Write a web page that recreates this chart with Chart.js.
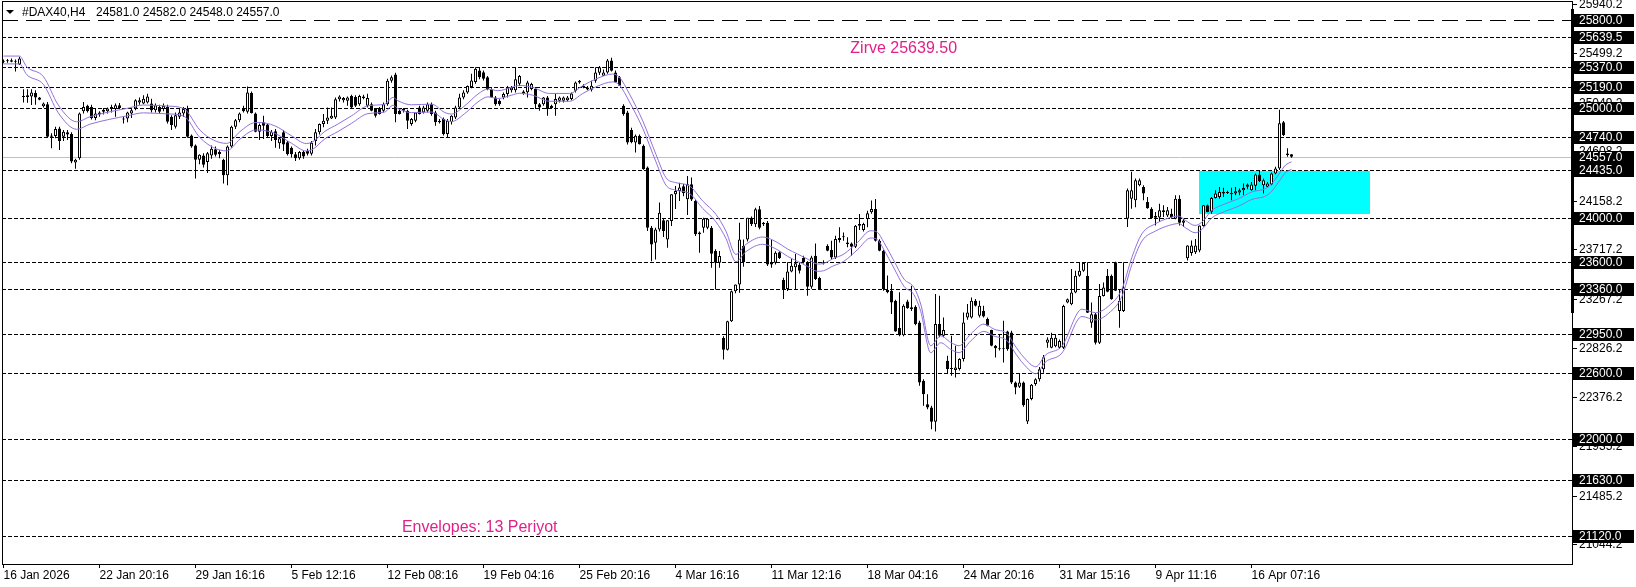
<!DOCTYPE html>
<html>
<head>
<meta charset="utf-8">
<title>#DAX40,H4</title>
<script src="https://cdn.jsdelivr.net/npm/chart.js@4.4.1/dist/chart.umd.min.js"></script>
<style>
  html, body { margin: 0; padding: 0; background: #fff; }
  #wrap { width: 1636px; height: 587px; position: relative; }
</style>
</head>
<body>
<div id="wrap"><canvas id="daxChart"></canvas></div>
<script>
// H4 candles (bar 0 = 16 Jan 2026)
const opens = [
  25420, 25425, 25432, 25420, 25395, 25110, 25100, 25105, 25135, 25095,
  25015, 25035, 24750, 24745, 24815, 24740, 24780, 24765, 24505, 24545,
  24970, 25020, 25010, 24910, 24940, 24965, 24970, 24995, 24990, 25025,
  24900, 24905, 24950, 24995, 25050, 25040, 25050, 25040, 24980, 25010,
  24990, 25010, 24920, 24830, 24920, 24950, 24996, 24750, 24660, 24530,
  24570, 24510, 24570, 24625, 24600, 24530, 24390, 24650, 24830, 24890,
  25000, 24966, 25135, 24950, 24785, 24870, 24850, 24745, 24790, 24680,
  24780, 24690, 24640, 24580, 24545, 24600, 24611, 24585, 24700, 24780,
  24855, 24885, 24905, 24915, 25080, 25070, 25065, 25110, 25100, 25035,
  25105, 25020, 25035, 24990, 25000, 24975, 25035, 25248, 25305, 24975,
  24990, 24975, 24855, 24885, 25005, 24960, 24975, 25035, 24960, 24885,
  24900, 24765, 24870, 24915, 25005, 25095, 25140, 25190, 25235, 25340,
  25325, 25280, 25170, 25096, 25066, 25096, 25126, 25160, 25160, 25220,
  25150, 25142, 25172, 25172, 25035, 25035, 25096, 25020, 25035, 25066,
  25066, 25070, 25081, 25157, 25232, 25202, 25187, 25165, 25248, 25320,
  25293, 25323, 25430, 25323, 25278, 25020, 24960, 24800, 24687, 24748,
  24657, 24460, 23914, 23778, 23899, 23981, 23808, 23975, 24217, 24248,
  24290, 24172, 24308, 24157, 23870, 23914, 23914, 23914, 23702, 23596,
  22915, 22808, 23066, 23339, 23399, 23748, 23808, 24005, 23945, 24081,
  23945, 23960, 23581, 23596, 23691, 23440, 23358, 23518, 23555, 23579,
  23639, 23600, 23379, 23660, 23458, 23600, 23751, 23712, 23645, 23821,
  23827, 23781, 23772, 23742, 23948, 23893, 23993, 24054, 24084, 23797,
  23706, 23349, 23343, 23252, 23004, 22940, 23246, 23192, 23198, 23055,
  22526, 22314, 22284, 22154, 23040, 22934, 22708, 22632, 22623, 22632,
  22723, 23101, 23101, 23252, 23116, 23161, 23086, 22986, 22844, 22822,
  22822, 22974, 22965, 22511, 22472, 22511, 22157, 22360, 22496, 22540,
  22630, 22870, 22825, 22840, 22825, 22825, 23236, 23220, 23327, 23479,
  23524, 23479, 23053, 23129, 22871, 23296, 23479, 23479, 23600, 23159,
  23159, 23996, 24178, 24163, 24300, 24284, 24148, 24087, 24020, 24008,
  24056, 24026, 24041, 23996, 24178, 23959, 23637, 23685, 23692, 23707,
  23929, 24117, 24060, 24184, 24193, 24224, 24239, 24218, 24224, 24233,
  24254, 24306, 24254, 24294, 24397, 24300, 24285, 24306, 24406, 24452,
  24871, 24588, 24581
];
const highs = [
  25440, 25445, 25450, 25440, 25465, 25170, 25169, 25170, 25160, 25100,
  25050, 25055, 24770, 24830, 24830, 24800, 24800, 24780, 24540, 24960,
  25055, 25030, 25030, 24990, 24970, 25000, 25005, 25030, 25040, 25045,
  24920, 24965, 24995, 25080, 25095, 25115, 25130, 25085, 25040, 25030,
  25040, 25030, 24935, 24960, 24990, 25010, 25020, 24760, 24670, 24580,
  24590, 24600, 24660, 24650, 24620, 24540, 24660, 24840, 24900, 24960,
  25020, 25195, 25150, 24960, 24860, 24930, 24860, 24800, 24810, 24730,
  24800, 24700, 24650, 24600, 24610, 24620, 24630, 24700, 24810, 24860,
  24945, 25005, 25005, 25095, 25115, 25100, 25105, 25120, 25115, 25120,
  25120, 25130, 25050, 25000, 25010, 25050, 25265, 25295, 25320, 24990,
  25000, 24985, 24910, 24960, 25020, 25020, 25050, 25050, 24975, 24900,
  24915, 24900, 24935, 25020, 25130, 25160, 25205, 25310, 25370, 25370,
  25340, 25290, 25180, 25110, 25080, 25140, 25200, 25200, 25370, 25300,
  25160, 25248, 25230, 25190, 25045, 25100, 25110, 25030, 25126, 25105,
  25105, 25110, 25140, 25240, 25255, 25215, 25200, 25248, 25369, 25380,
  25350, 25445, 25455, 25340, 25290, 25035, 24975, 24820, 24760, 24760,
  24670, 24470, 23930, 23914, 24142, 24000, 23981, 24217, 24293, 24323,
  24310, 24384, 24369, 24170, 23880, 24005, 24000, 23930, 23720, 23702,
  22930, 23070, 23345, 23400, 23960, 23808, 24005, 24015, 24096, 24111,
  23965, 23975, 23808, 23700, 23700, 23460, 23600, 23630, 23676, 23600,
  23660, 23610, 23660, 23772, 23470, 23620, 23765, 23797, 23842, 23918,
  23872, 23827, 23781, 23940, 24039, 23960, 24069, 24160, 24175, 23810,
  23715, 23480, 23403, 23260, 23328, 23220, 23260, 23388, 23210, 23070,
  22540, 22405, 22300, 23313, 23297, 23101, 22753, 22934, 22844, 22730,
  23146, 23222, 23282, 23267, 23252, 23207, 23101, 22990, 22850, 22950,
  23071, 22980, 22980, 22520, 22587, 22520, 22365, 22496, 22550, 22650,
  22760, 22920, 22962, 22947, 22900, 23215, 23272, 23540, 23524, 23600,
  23600, 23600, 23236, 23140, 23403, 23418, 23540, 23490, 23605, 23357,
  23600, 24269, 24421, 24360, 24360, 24300, 24193, 24100, 24056, 24132,
  24117, 24102, 24087, 24208, 24208, 23996, 23756, 23798, 23813, 23935,
  24117, 24125, 24193, 24254, 24284, 24276, 24250, 24276, 24284, 24269,
  24315, 24315, 24330, 24406, 24436, 24360, 24330, 24415, 24467, 24984,
  24883, 24634, 24582
];
const lows = [
  25405, 25410, 25415, 25330, 25390, 25050, 25048, 25027, 25030, 25070,
  25005, 24730, 24635, 24725, 24620, 24700, 24710, 24500, 24450, 24530,
  24950, 24960, 24895, 24890, 24920, 24940, 24950, 24960, 24920, 24990,
  24860, 24870, 24910, 24980, 25030, 25035, 25040, 24960, 24960, 24950,
  24970, 24860, 24800, 24815, 24900, 24920, 24730, 24640, 24360, 24490,
  24460, 24410, 24540, 24560, 24545, 24315, 24300, 24640, 24810, 24870,
  24960, 24950, 24950, 24780, 24710, 24720, 24730, 24700, 24640, 24630,
  24610, 24570, 24550, 24520, 24530, 24540, 24570, 24570, 24660, 24760,
  24825, 24855, 24900, 24900, 25060, 25050, 25020, 25000, 25010, 25020,
  25080, 25005, 24970, 24915, 24940, 24960, 25020, 25230, 24870, 24940,
  24960, 24810, 24840, 24870, 24940, 24950, 24960, 24930, 24840, 24860,
  24750, 24735, 24850, 24900, 24990, 25080, 25130, 25180, 25220, 25260,
  25250, 25160, 25090, 25020, 25020, 25080, 25096, 25140, 25140, 25200,
  25120, 25096, 25160, 24990, 24975, 25020, 24929, 24995, 24929, 25050,
  25050, 25060, 25070, 25140, 25220, 25180, 25160, 25150, 25230, 25300,
  25290, 25310, 25330, 25230, 25200, 24930, 24670, 24680, 24596, 24670,
  24440, 23884, 23611, 23627, 23880, 23830, 23733, 23930, 24085, 24157,
  24200, 24030, 24157, 23839, 23687, 23869, 23900, 23551, 23354, 23551,
  22718, 22800, 23060, 23320, 23324, 23560, 23790, 23930, 23920, 23900,
  23930, 23566, 23551, 23580, 23630, 23267, 23340, 23510, 23358, 23500,
  23590, 23297, 23360, 23440, 23350, 23580, 23700, 23630, 23630, 23780,
  23797, 23736, 23660, 23730, 23893, 23880, 23918, 24040, 23790, 23700,
  23343, 23320, 23131, 22970, 22930, 22930, 23180, 23160, 23030, 22481,
  22299, 22269, 22087, 22066, 22920, 22920, 22587, 22571, 22556, 22620,
  22700, 23080, 23090, 23200, 23101, 23100, 23020, 22840, 22738, 22800,
  22692, 22798, 22496, 22405, 22460, 22290, 22133, 22350, 22480, 22520,
  22600, 22825, 22820, 22830, 22815, 22815, 23230, 23210, 23320, 23470,
  23515, 23140, 23008, 22856, 22860, 23290, 23330, 23260, 23340, 23008,
  23150, 23920, 24087, 24100, 24290, 24163, 24087, 23996, 23935, 23965,
  24011, 24011, 23996, 23990, 23935, 23920, 23616, 23661, 23676, 23692,
  23925, 24055, 24041, 24180, 24178, 24193, 24220, 24163, 24208, 24208,
  24208, 24263, 24250, 24254, 24330, 24224, 24280, 24300, 24400, 24437,
  24745, 24558, 24548
];
const closes = [
  25425, 25432, 25420, 25428, 25450, 25100, 25115, 25140, 25095, 25075,
  25040, 24740, 24740, 24810, 24700, 24785, 24760, 24515, 24530, 24950,
  25010, 24970, 24910, 24950, 24960, 24985, 24995, 25010, 25025, 25000,
  24895, 24960, 24980, 25070, 25070, 25085, 25105, 24980, 25025, 24965,
  25020, 24875, 24845, 24935, 24960, 24990, 24740, 24650, 24530, 24575,
  24485, 24590, 24630, 24575, 24580, 24390, 24650, 24830, 24890, 24950,
  24970, 25140, 24955, 24785, 24845, 24840, 24745, 24785, 24710, 24725,
  24670, 24580, 24580, 24545, 24600, 24560, 24585, 24685, 24780, 24855,
  24885, 24915, 24930, 25080, 25105, 25090, 25095, 25005, 25020, 25110,
  25090, 25090, 24975, 24930, 24945, 25035, 25248, 25278, 24945, 24945,
  24975, 24885, 24900, 24960, 24945, 25005, 25035, 24945, 24870, 24870,
  24765, 24885, 24930, 25005, 25095, 25140, 25200, 25250, 25355, 25280,
  25265, 25170, 25096, 25035, 25035, 25126, 25187, 25187, 25260, 25290,
  25130, 25232, 25217, 25035, 25005, 25096, 24990, 25000, 25081, 25096,
  25096, 25096, 25132, 25232, 25248, 25187, 25168, 25202, 25323, 25369,
  25323, 25430, 25339, 25232, 25202, 24945, 24687, 24690, 24748, 24672,
  24445, 23914, 23763, 23899, 24051, 23884, 23981, 24217, 24248, 24278,
  24230, 24308, 24170, 23854, 23854, 23996, 23996, 23678, 23596, 23657,
  22808, 23066, 23339, 23399, 23808, 23600, 24005, 23945, 24081, 23914,
  23960, 23581, 23596, 23687, 23639, 23358, 23518, 23570, 23591, 23524,
  23600, 23379, 23645, 23449, 23358, 23591, 23706, 23645, 23812, 23803,
  23830, 23766, 23742, 23933, 23933, 23948, 24045, 24084, 23797, 23706,
  23358, 23328, 23237, 22974, 22940, 23207, 23185, 23176, 23040, 22511,
  22405, 22284, 22154, 23040, 22934, 22986, 22632, 22641, 22647, 22723,
  23055, 23146, 23252, 23207, 23207, 23110, 23025, 22844, 22822, 22813,
  22813, 22813, 22511, 22466, 22511, 22305, 22360, 22490, 22541, 22630,
  22740, 22900, 22916, 22916, 22886, 23205, 23266, 23327, 23479, 23524,
  23595, 23144, 23129, 22871, 23296, 23372, 23334, 23266, 23342, 23251,
  23372, 24254, 24254, 24345, 24345, 24224, 24090, 24000, 24005, 24072,
  24072, 24072, 24011, 24178, 23959, 23980, 23752, 23752, 23752, 23935,
  24117, 24056, 24184, 24224, 24239, 24239, 24230, 24230, 24245, 24254,
  24275, 24285, 24306, 24397, 24336, 24345, 24315, 24406, 24452, 24862,
  24755, 24573, 24557
];

// Envelopes (13) upper / lower lines, read at these bar positions
const envBars = [
  0, 4, 5.8, 10, 13.7, 18.3, 21.6, 26.6, 30.8, 35, 40.8, 45, 49.1, 52.5, 55.8, 59.1, 62.5, 63.6,
  67.8, 72, 75.7, 77.4, 80.3, 83.6, 87, 91.1, 95.3, 97.4, 98.6, 102, 107, 110.3, 112, 115.3,
  118.6, 121.1, 123.6, 127, 129, 132.3, 136.5, 141.5, 144.8, 148.1, 152.3, 154, 156.5, 159.8,
  163.1, 165.6, 168.1, 171.5, 174.8, 178.1, 180.6, 183.1, 185.6, 189.8, 193.6, 196, 198.5, 201,
  203.5, 205, 207.2, 210.1, 213.5, 216.8, 218.5, 220.1, 222.6, 225.1, 227.6, 229.3, 231.8, 234.3,
  236.8, 238.9, 241.8, 245.1, 247.6, 251, 252.6, 255.1, 258.1, 260.5, 264.6, 269.6, 273, 276.3,
  279.6, 282.1, 284.6, 288, 291.3, 293.8, 295.5, 297.9, 299.6, 302.1, 305.5, 308.8, 312.1, 315.5,
  317.1, 318.8, 320.5, 322
];
const envUpper = [
  25471, 25471, 25374, 25284, 25027, 24875, 24921, 24966, 24996, 25027, 25018, 24996, 24800, 24709, 24679, 24785, 24866, 24869,
  24839, 24748, 24678, 24696, 24787, 24854, 24929, 25020, 25035, 25096, 25066, 25029, 25035, 24960, 24945, 25020,
  25126, 25172, 25157, 25187, 25205, 25187, 25132, 25132, 25202, 25263, 25308, 25278, 25126, 24884,
  24581, 24369, 24323, 24293, 24157, 24036, 23884, 23672, 23763, 23830, 23778, 23721, 23676, 23630,
  23585, 23590, 23630, 23676, 23781, 23887, 23872, 23781, 23615, 23449, 23373, 23222, 22844, 22934,
  22874, 22844, 22950, 23040, 22995, 22950, 22859, 22738, 22653, 22760, 22840, 23175, 23144, 23205,
  23357, 23646, 23859, 23950, 24002, 24020, 23980, 23935, 23965, 24072, 24132, 24178, 24239, 24269,
  24315, 24397, 24482, 24512
];
const envLower = [
  25400, 25400, 25303, 25213, 24956, 24807, 24853, 24898, 24928, 24956, 24947, 24928, 24732, 24641, 24611, 24717, 24798, 24801,
  24771, 24680, 24610, 24628, 24719, 24786, 24861, 24949, 24964, 25025, 24995, 24958, 24964, 24892, 24877, 24949,
  25055, 25101, 25086, 25116, 25134, 25116, 25061, 25061, 25131, 25192, 25237, 25207, 25055, 24816,
  24513, 24301, 24255, 24225, 24089, 23968, 23818, 23606, 23697, 23764, 23712, 23655, 23610, 23564,
  23519, 23524, 23564, 23610, 23715, 23821, 23806, 23715, 23549, 23383, 23307, 23156, 22781, 22871,
  22811, 22781, 22887, 22974, 22932, 22887, 22796, 22675, 22590, 22697, 22777, 23109, 23078, 23139,
  23291, 23580, 23793, 23884, 23934, 23952, 23914, 23869, 23899, 24004, 24064, 24110, 24171, 24201,
  24247, 24329, 24414, 24444
];

// time axis labels (every 24 bars)
const xTickBars = [0, 24, 48, 72, 96, 120, 144, 168, 192, 216, 240, 264, 288, 312];
const xTickLabels = [
  '16 Jan 2026', '22 Jan 20:16', '29 Jan 16:16', '5 Feb 12:16', '12 Feb 08:16', '19 Feb 04:16', '25 Feb 20:16',
  '4 Mar 16:16', '11 Mar 12:16', '18 Mar 04:16', '24 Mar 20:16', '31 Mar 15:16', '9 Apr 11:16', '16 Apr 07:16'
];

// price scale labels and horizontal levels
const axisPrices = [25940.2, 25499.2, 25049.2, 24608.2, 24158.2, 23717.2, 23267.2, 22826.2, 22376.2, 21935.2, 21485.2, 21044.2];
const levelPrices = [25800, 25639.5, 25370, 25190, 25000, 24740, 24435, 24000, 23600, 23360, 22950, 22600, 22000, 21630, 21120];
const longDashLevels = [25800];
const currentPrice = 24557;

const symbolText = '#DAX40,H4';
const quoteText = '24581.0 24582.0 24548.0 24557.0';

// cyan zone (bars / prices)
const zoneBars = [298.8, 341.6];
const zonePrices = [24430, 24040];

// text notes: [text, bar, price]
const notes = [
  ['Zirve 25639.50', 211.7, 25535],
  ['Envelopes: 13 Periyot', 99.6, 21191]
];

const FONT = "'Liberation Sans', Arial, sans-serif";
const barIdx = opens.map((o, i) => i);

const mt4Decor = {
  id: 'mt4Decor',
  beforeDraw(chart) {
    const { ctx, width, height } = chart;
    ctx.save();
    ctx.fillStyle = '#ffffff';
    ctx.fillRect(0, 0, width, height);
    ctx.restore();
  },
  beforeDatasetsDraw(chart) {
    const { ctx, chartArea: a, scales: { x, y } } = chart;
    ctx.save();
    // zone
    const zx1 = Math.round(x.getPixelForValue(zoneBars[0]));
    const zx2 = Math.round(x.getPixelForValue(zoneBars[1]));
    const zy1 = Math.round(y.getPixelForValue(zonePrices[0]));
    const zy2 = Math.round(y.getPixelForValue(zonePrices[1]));
    ctx.fillStyle = '#00ffff';
    ctx.fillRect(zx1, zy1, zx2 - zx1, zy2 - zy1);

    // levels
    ctx.lineWidth = 1;
    ctx.strokeStyle = '#000000';
    levelPrices.forEach((p) => {
      const py = Math.round(y.getPixelForValue(p)) + 0.5;
      ctx.setLineDash(longDashLevels.includes(p) ? [16, 8] : [4, 2]);
      ctx.beginPath();
      ctx.moveTo(a.left, py);
      ctx.lineTo(a.right, py);
      ctx.stroke();
    });
    // bid line
    ctx.setLineDash([]);
    ctx.strokeStyle = '#c0c0c0';
    const cy = Math.round(y.getPixelForValue(currentPrice)) + 0.5;
    ctx.beginPath();
    ctx.moveTo(a.left, cy);
    ctx.lineTo(a.right, cy);
    ctx.stroke();
    ctx.restore();
  },
  afterDraw(chart) {
    const { ctx, chartArea: a, scales: { x, y } } = chart;
    ctx.save();
    // frame
    ctx.strokeStyle = '#000';
    ctx.lineWidth = 1;
    ctx.strokeRect(a.left + 0.5, a.top - 0.5, a.right - a.left, a.bottom - a.top + 1);
    ctx.fillStyle = '#000';
    ctx.fillRect(a.right - 1, 9, 3, 304);

    // price scale
    ctx.font = '12px ' + FONT;
    ctx.textBaseline = 'middle';
    ctx.textAlign = 'left';
    axisPrices.forEach((p) => {
      const py = Math.round(y.getPixelForValue(p));
      ctx.fillStyle = '#000';
      ctx.fillRect(a.right, py, 5, 1);
      ctx.fillText(p.toFixed(1), a.right + 7, py + 1);
    });
    levelPrices.concat([currentPrice]).forEach((p) => {
      const py = Math.round(y.getPixelForValue(p));
      ctx.fillStyle = '#000';
      ctx.fillRect(a.right + 1, py - 6, 61, 13);
      ctx.fillStyle = '#fff';
      ctx.fillText(p.toFixed(1), a.right + 7, py + 1);
    });

    // header
    ctx.fillStyle = '#000';
    ctx.beginPath();
    ctx.moveTo(6, 10);
    ctx.lineTo(14, 10);
    ctx.lineTo(10, 14);
    ctx.closePath();
    ctx.fill();
    ctx.fillText(symbolText, 22, 13);
    ctx.fillText(quoteText, 96, 13);

    // notes
    ctx.font = '16px ' + FONT;
    ctx.fillStyle = '#e0218a';
    notes.forEach(([t, b, p]) => {
      ctx.fillText(t, x.getPixelForValue(b), y.getPixelForValue(p));
    });
    ctx.restore();
  }
};

new Chart(document.getElementById('daxChart'), {
  type: 'bar',
  data: {
    datasets: [
      {
        type: 'line',
        label: 'Envelope upper',
        data: envBars.map((b, k) => ({ x: b, y: envUpper[k] })),
        borderColor: '#9370db',
        borderWidth: 1,
        pointRadius: 0,
        cubicInterpolationMode: 'monotone',
        order: -2,
      },
      {
        type: 'line',
        label: 'Envelope lower',
        data: envBars.map((b, k) => ({ x: b, y: envLower[k] })),
        borderColor: '#9370db',
        borderWidth: 1,
        pointRadius: 0,
        cubicInterpolationMode: 'monotone',
        order: -1,
      },
      {
        label: 'Bodies',
        data: barIdx.map((i) => ({ x: i, y: [Math.min(opens[i], closes[i]), Math.max(opens[i], closes[i])] })),
        backgroundColor: barIdx.map((i) => (closes[i] >= opens[i] ? '#ffffff' : '#000000')),
        borderColor: '#000000',
        borderWidth: 1,
        borderSkipped: false,
        inflateAmount: 0,
        minBarLength: 1,
        grouped: false,
        barThickness: 3,
        maxBarThickness: 3,
        order: 0,
      },
      {
        label: 'Wicks',
        data: barIdx.map((i) => ({ x: i, y: [lows[i], highs[i]] })),
        backgroundColor: '#000000',
        borderWidth: 0,
        borderSkipped: false,
        inflateAmount: 0,
        grouped: false,
        barThickness: 1,
        maxBarThickness: 1,
        order: 1,
      },
    ],
  },
  options: {
    responsive: true,
    maintainAspectRatio: false,
    animation: false,
    events: [],
    layout: { padding: { left: 2, top: 2, right: 0, bottom: 0 } },
    plugins: { legend: { display: false }, tooltip: { enabled: false } },
    scales: {
      x: {
        type: 'linear',
        min: -0.375,
        max: 392.125,
        offset: false,
        afterBuildTicks: (s) => { s.ticks = xTickBars.map((v) => ({ value: v })); },
        afterFit: (s) => { s.height = 23; },
        ticks: {
          autoSkip: false,
          maxRotation: 0,
          minRotation: 0,
          align: 'start',
          padding: 0,
          color: '#000',
          font: { family: FONT, size: 12 },
          callback: (v) => xTickLabels[xTickBars.indexOf(v)],
        },
        grid: { drawOnChartArea: false, drawTicks: true, tickLength: 4, color: '#000', offset: false },
        border: { display: false },
      },
      y: {
        type: 'linear',
        position: 'right',
        min: 20864.4,
        max: 25961.4,
        ticks: { display: false },
        grid: { display: false },
        border: { display: false },
        afterFit: (s) => { s.width = 64; },
      },
    },
  },
  plugins: [mt4Decor],
});
</script>
</body>
</html>
